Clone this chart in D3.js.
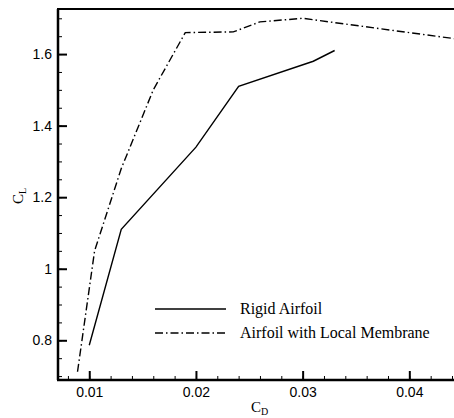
<!DOCTYPE html>
<html>
<head>
<meta charset="utf-8">
<script src="https://cdn.jsdelivr.net/npm/d3@7"></script>
<style>
  html, body { margin: 0; padding: 0; background: #fff; }
  svg { display: block; }
</style>
</head>
<body>
<svg id="chart" width="454" height="418"></svg>
<script>
// Lift coefficient vs drag coefficient
const rigidCd = [0.010, 0.013, 0.020, 0.024, 0.031, 0.033];
const rigidCl = [0.786, 1.11, 1.34, 1.51, 1.58, 1.61];

const membraneCd = [0.0089, 0.0105, 0.013, 0.016, 0.019, 0.0235, 0.026, 0.030, 0.045];
const membraneCl = [0.712, 1.05, 1.28, 1.50, 1.66, 1.662, 1.69, 1.70, 1.64];

const xMajorTicks = [0.01, 0.02, 0.03, 0.04];
const xTickLabels = ["0.01", "0.02", "0.03", "0.04"];
const yMajorTicks = [0.8, 1.0, 1.2, 1.4, 1.6];
const yTickLabels = ["0.8", "1", "1.2", "1.4", "1.6"];

const seriesNames = ["Rigid Airfoil", "Airfoil with Local Membrane"];

const svg = d3.select("#chart");
const plotLeft = 58, plotTop = 9, plotBottom = 380, plotRight = 468;

const x = d3.scaleLinear().domain([0.00707, 0.0455]).range([plotLeft, plotRight]);
const y = d3.scaleLinear().domain([0.689, 1.726]).range([plotBottom, plotTop]);

const xMinor = d3.range(0.008, 0.0455, 0.002);
const yMinor = d3.range(0.7, 1.726, 0.05);

const tickFont = "'Liberation Sans', Arial, sans-serif";
const serifFont = "'Liberation Serif', 'Times New Roman', serif";

// Minor ticks (inward)
svg.append("g")
  .attr("transform", `translate(0,${plotBottom})`)
  .call(d3.axisBottom(x).tickValues(xMinor).tickSize(-4).tickSizeOuter(0).tickFormat(""))
  .call(g => g.select(".domain").remove())
  .selectAll("line").attr("stroke", "#000").attr("stroke-width", 1);

svg.append("g")
  .attr("transform", `translate(${plotLeft},0)`)
  .call(d3.axisLeft(y).tickValues(yMinor).tickSize(-4).tickSizeOuter(0).tickFormat(""))
  .call(g => g.select(".domain").remove())
  .selectAll("line").attr("stroke", "#000").attr("stroke-width", 1);

// Major ticks with labels
const xAxis = svg.append("g")
  .attr("transform", `translate(0,${plotBottom})`)
  .call(d3.axisBottom(x).tickValues(xMajorTicks).tickSize(-9).tickSizeOuter(0).tickPadding(7)
    .tickFormat((d, i) => xTickLabels[i]));
xAxis.select(".domain").remove();
xAxis.selectAll("line").attr("stroke", "#000").attr("stroke-width", 2);
xAxis.selectAll("text").attr("font-family", tickFont).attr("font-size", 14).attr("fill", "#000");

const yAxis = svg.append("g")
  .attr("transform", `translate(${plotLeft},0)`)
  .call(d3.axisLeft(y).tickValues(yMajorTicks).tickSize(-9).tickSizeOuter(0).tickPadding(6)
    .tickFormat((d, i) => yTickLabels[i]));
yAxis.select(".domain").remove();
yAxis.selectAll("line").attr("stroke", "#000").attr("stroke-width", 2);
yAxis.selectAll("text").attr("font-family", tickFont).attr("font-size", 14).attr("fill", "#000");

// Frame
svg.append("line").attr("x1", plotLeft).attr("x2", plotLeft).attr("y1", plotTop).attr("y2", plotBottom)
  .attr("stroke", "#000").attr("stroke-width", 2.5);
svg.append("line").attr("x1", plotLeft - 1).attr("x2", plotRight).attr("y1", plotBottom).attr("y2", plotBottom)
  .attr("stroke", "#000").attr("stroke-width", 2.5);
svg.append("line").attr("x1", plotLeft - 1).attr("x2", plotRight).attr("y1", plotTop).attr("y2", plotTop)
  .attr("stroke", "#000").attr("stroke-width", 2);

// Series
const line = d3.line().x(d => x(d[0])).y(d => y(d[1]));
const rigid = rigidCd.map((c, i) => [c, rigidCl[i]]);
const membrane = membraneCd.map((c, i) => [c, membraneCl[i]]);

svg.append("path").datum(rigid).attr("d", line)
  .attr("fill", "none").attr("stroke", "#000").attr("stroke-width", 1.4);
svg.append("path").datum(membrane).attr("d", line)
  .attr("fill", "none").attr("stroke", "#000").attr("stroke-width", 1.4)
  .attr("stroke-dasharray", "8,3,1.5,3");

// Legend
const legend = svg.append("g");
const legendRows = [
  { name: seriesNames[0], dash: null, y: 309 },
  { name: seriesNames[1], dash: "8,3,1.5,3", y: 333 }
];
legendRows.forEach(r => {
  legend.append("line").attr("x1", 155).attr("x2", 226).attr("y1", r.y).attr("y2", r.y)
    .attr("stroke", "#000").attr("stroke-width", 1.4)
    .attr("stroke-dasharray", r.dash);
  legend.append("text").attr("x", 240).attr("y", r.y + 5)
    .attr("font-family", serifFont).attr("font-size", 16).attr("fill", "#000")
    .text(r.name);
});

// Axis titles
const xt = svg.append("text").attr("x", 251).attr("y", 412)
  .attr("font-family", serifFont).attr("font-size", 15).attr("fill", "#000");
xt.append("tspan").text("C");
xt.append("tspan").attr("font-size", 10).attr("dy", 3).text("D");

const yt = svg.append("text")
  .attr("transform", "translate(23,204) rotate(-90)")
  .attr("font-family", serifFont).attr("font-size", 15).attr("fill", "#000");
yt.append("tspan").text("C");
yt.append("tspan").attr("font-size", 10).attr("dy", 3).text("L");
</script>
</body>
</html>
